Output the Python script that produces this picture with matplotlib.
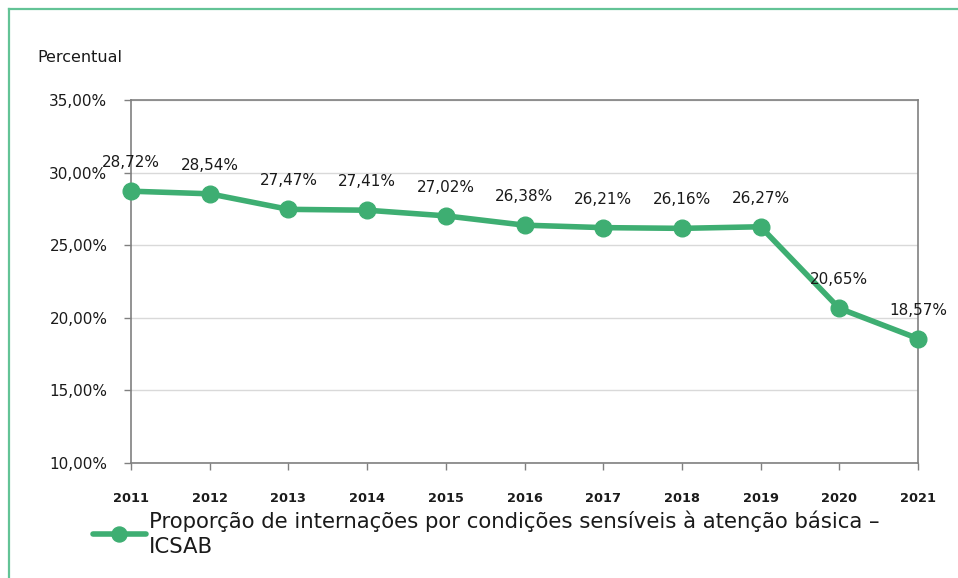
import matplotlib
matplotlib.use("Agg")
import matplotlib.pyplot as plt
from matplotlib.lines import Line2D

plt.rcParams['font.family'] = ['DejaVu Sans']

years = ["2011", "2012", "2013", "2014", "2015", "2016", "2017", "2018", "2019", "2020", "2021"]
values = [28.72, 28.54, 27.47, 27.41, 27.02, 26.38, 26.21, 26.16, 26.27, 20.65, 18.57]
yticks = [10, 15, 20, 25, 30, 35]
series_name = "Proporção de internações por condições sensíveis à atenção básica –\nICSAB"

green = "#3EAE72"
W, H = 958, 578
fig = plt.figure(figsize=(W / 100, H / 100), dpi=100)
ax = fig.add_axes([131 / W, 1 - 463 / H, (918 - 131) / W, (463 - 100) / H])

x = list(range(len(years)))
line, = ax.plot(x, values, color=green, lw=4, marker='o', markersize=12,
                markerfacecolor=green, markeredgecolor=green, solid_capstyle='round',
                clip_on=False, zorder=3)

def fmt(v):
    return f"{v:.2f}".replace('.', ',') + '%'

for xi, v in zip(x, values):
    ax.annotate(fmt(v), (xi, v), xytext=(0, 20.5), textcoords='offset points',
                ha='center', va='center', fontsize=11, color='#1a1a1a', zorder=4)

ax.set_xlim(0, len(years) - 1)
ax.set_ylim(10, 35)
ax.set_xticks(x)
ax.set_xticklabels(years, fontsize=9.3, fontweight='bold', color='#1a1a1a')
ax.set_yticks(yticks)
ax.set_yticklabels([fmt(t) for t in yticks], fontsize=11, color='#1a1a1a')
ax.tick_params(axis='both', direction='out', length=5, color='#808080', width=1)
ax.tick_params(axis='x', pad=16)
ax.tick_params(axis='y', pad=12)
ax.grid(axis='y', color='#d9d9d9', lw=1)
ax.set_axisbelow(True)
for s in ax.spines.values():
    s.set_color('#808080')
    s.set_linewidth(1.2)

fig.text(37 / W, 1 - 57 / H, "Percentual", fontsize=11.5, ha='left', va='center', color='#1a1a1a')

leg = fig.legend([line], [series_name], loc='upper left', bbox_to_anchor=(84 / W, 1 - 502 / H),
                 frameon=False, fontsize=15.3, handlelength=2.5, handletextpad=0.15,
                 borderaxespad=0, labelspacing=0, markerscale=0.9)
for t in leg.get_texts():
    t.set_color('#1a1a1a')
    t.set_linespacing(1.3)

# outer green border (top and left visible)
fig.add_artist(Line2D([9 / W, 9 / W], [0, 1 - 9 / H], transform=fig.transFigure, color='#63C396', lw=1.6))
fig.add_artist(Line2D([9 / W, 1], [1 - 9 / H, 1 - 9 / H], transform=fig.transFigure, color='#63C396', lw=1.6))

fig.savefig("out.png", dpi=100)
